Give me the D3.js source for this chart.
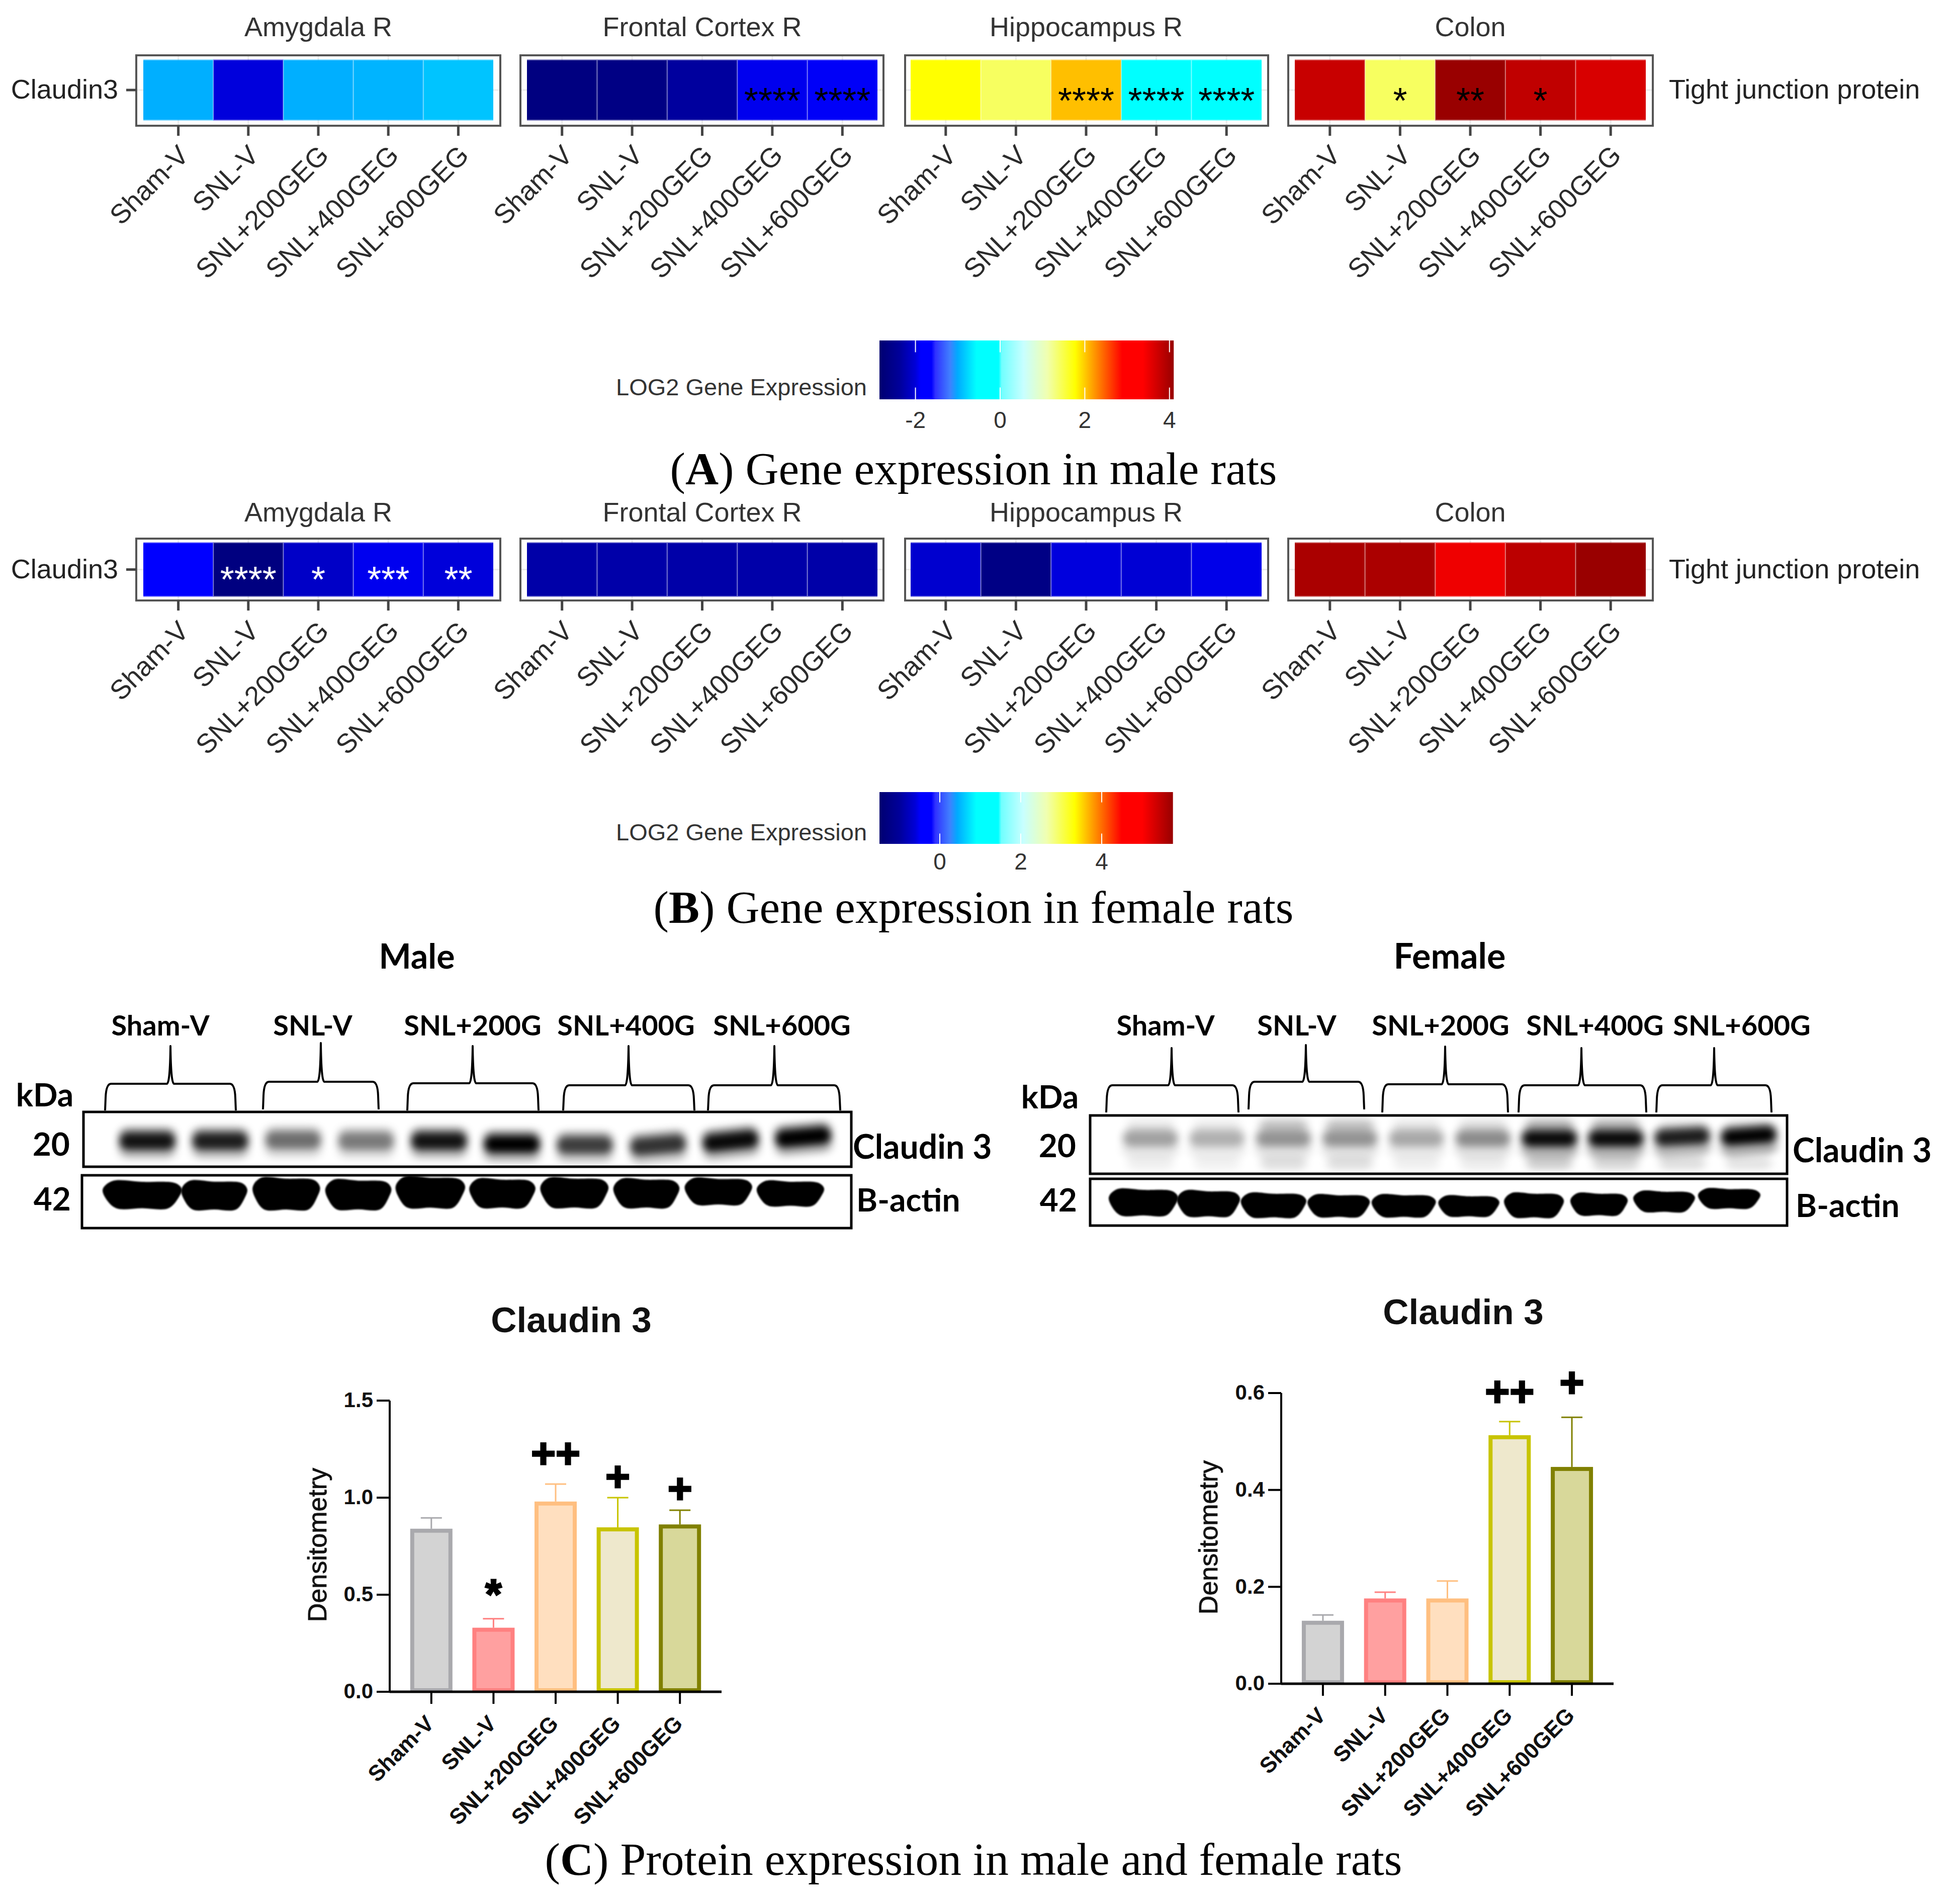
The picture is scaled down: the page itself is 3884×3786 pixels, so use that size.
<!DOCTYPE html>
<html>
<head>
<meta charset="utf-8">
<script src="https://d3js.org/d3.v7.min.js"></script>
<style>
    html, body { margin: 0; padding: 0; background: #fff; overflow: hidden; }
    text { font-family: "Liberation Sans", Arial, sans-serif; }
    svg { display: block; }
</style>
</head>
<body>
<div id="chart"></div>
<script>
// Data ------------------------------------
var tissues = ["Amygdala R", "Frontal Cortex R", "Hippocampus R", "Colon"];
var heatGroups = ["Sham-V", "SNL-V", "SNL+200GEG", "SNL+400GEG", "SNL+600GEG"];
var geneName = "Claudin3";
var geneClass = "Tight junction protein";
var legendTitle = "LOG2 Gene Expression";

// LOG2 values
var maleAmygdala = [-0.98, -1.99, -0.98, -0.955, -0.87];
var maleFrontal = [-2.67, -2.63, -2.35, -1.93, -1.9];
var maleHippocampus = [1.77, 1.41, 2.05, -0.2, -0.2];
var maleColon = [3.76, 1.41, 4.09, 3.82, 3.65];
var maleAmygdalaSig = ["", "", "", "", ""];
var maleFrontalSig = ["", "", "", "****", "****"];
var maleHippocampusSig = ["", "", "****", "****", "****"];
var maleColonSig = ["", "*", "**", "*", ""];

var femaleAmygdala = [-0.4, -1.3, -0.71, -0.53, -0.6];
var femaleFrontal = [-0.91, -0.9, -0.91, -0.9, -0.91];
var femaleHippocampus = [-0.66, -1.25, -0.59, -0.63, -0.55];
var femaleColon = [5.63, 5.62, 5.12, 5.5, 5.75];
var femaleAmygdalaSig = ["", "****", "*", "***", "**"];
var femaleFrontalSig = ["", "", "", "", ""];
var femaleHippocampusSig = ["", "", "", "", ""];
var femaleColonSig = ["", "", "", "", ""];

// colour bars
var maleRange = [-2.85, 4.1];
var femaleRange = [-1.49, 5.76];
var maleLegendTicks = [-2, 0, 2, 4];
var femaleLegendTicks = [0, 2, 4];
var paletteStops = [0, .07, .122, .14, .177, .19, .24, .265, .33, .405, .415, .49, .57, .665, .825, .895, 1];
var paletteColors = ["#000070", "#00009c", "#0000d8", "#0000ff", "#0000ff", "#3030ff", "#4080ff", "#00aaff", "#00ffff",
    "#00ffff", "#70ffff", "#c8ffff", "#f0ffb0", "#ffff00", "#ff0000", "#ff0000", "#980000"];

// western blots
var blotGroups = ["Sham-V", "SNL-V", "SNL+200G", "SNL+400G", "SNL+600G"];
var maleClaudinDensity = [.9, .85, .5, .45, .9, 1, .7, .75, .95, 1];
var maleClaudinMigration = [0, 0, .2, 0, 0, -.6, -.8, -.8, 0, .8];
var maleClaudinTilt = [0, 0, 0, 0, 0, 0, 0, -5, -6, -5];
var maleActinAmount = [.9, .95, 1.05, .98, 1.02, .95, .98, .95, .87, .82];
var maleActinSpread = [1.14, .95, .97, .95, 1, .95, .98, .95, .97, .97];
var maleActinMigration = [-.25, -.35, -.04, -.23, .23, .04, .15, .04, .4, 0];
var femaleClaudinDensity = [.3, .25, .35, .35, .28, .38, .95, .95, .85, 1];
var femaleClaudinMigration = [0, 0, 0, 0, 0, 0, 0, 0, .3, .5];
var femaleClaudinTilt = [0, 0, 0, 0, 0, 0, 0, 0, -3, -4];
var femaleUpperDensity = [.07, .06, .2, .2, .08, .1, .25, .25, .07, .07];
var femaleLowerDensity = [.06, .05, .12, .12, .06, .07, .18, .15, .12, .1];
var femaleActinAmount = [.87, .85, .8, .73, .73, .68, .8, .73, .68, .65];
var femaleActinSpread = [1.1, 1, 1.04, .99, 1.02, .97, .95, .91, .98, .99];
var femaleActinMigration = [.14, -.1, -.44, -.55, -.55, -.6, -.44, -.24, .3, .9];
var actinOutline = [[-.5, -.2], [-.38, -.5], [0, -.47], [.42, -.42], [.5, -.2], [.46, .1], [.33, .5], [0, .5], [-.33, .5], [-.46, .15]];

// densitometry bars
var barGroups = ["Sham-V", "SNL-V", "SNL+200GEG", "SNL+400GEG", "SNL+600GEG"];
var maleBarValues = [.84, .33, .98, .847, .862];
var maleBarErrors = [.896, .376, 1.07, 1.0, .935];
var maleBarMarks = ["", "*", "++", "+", "+"];
var maleBarMarkLevels = [0, .536, 1.225, 1.107, 1.044];
var maleBarTicks = [0, .5, 1, 1.5];
var femaleBarValues = [.13, .176, .176, .513, .4475];
var femaleBarErrors = [.142, .189, .212, .541, .55];
var femaleBarMarks = ["", "", "", "++", "+"];
var femaleBarMarkLevels = [0, 0, 0, .602, .621];
var femaleBarTicks = [0, .2, .4, .6];
var barFills = ["#d3d3d3", "#ffa0a0", "#ffdfbf", "#eee8cc", "#d8d89a"];
var barStrokes = ["#a9a9ad", "#ff8080", "#ffbf80", "#c8c400", "#808000"];

// Page ------------------------------------
var svg = d3.select("#chart")
    .append("svg")
    .attr("width", 3884)
    .attr("height", 3786)
    .attr("viewBox", "0 0 3884 3786");

svg.append("rect").attr("width", 3884).attr("height", 3786).attr("fill", "#fff");

var defs = svg.append("defs");
defs.append("filter").attr("id", "bandBlur").attr("x", "-50%").attr("y", "-100%").attr("width", "200%").attr("height", "300%")
    .append("feGaussianBlur").attr("stdDeviation", "8 8");
defs.append("filter").attr("id", "softBlur").attr("x", "-50%").attr("y", "-100%").attr("width", "200%").attr("height", "300%")
    .append("feGaussianBlur").attr("stdDeviation", "9 7");
defs.append("filter").attr("id", "edgeBlur").attr("x", "-20%").attr("y", "-20%").attr("width", "140%").attr("height", "140%")
    .append("feGaussianBlur").attr("stdDeviation", "1.5");

var panelBoxes = [[271, 995], [1035, 1757], [1800, 2522], [2562, 3287]];
var panelCells = [[285, 981], [1048, 1745], [1811, 2509], [2575, 3273]];

drawHeatRow({
    range: maleRange,
    values: [maleAmygdala, maleFrontal, maleHippocampus, maleColon],
    marks: [maleAmygdalaSig, maleFrontalSig, maleHippocampusSig, maleColonSig],
    markColor: "#000", titleY: 72, boxTop: 110, boxBottom: 250, cellTop: 120, cellBottom: 238,
    labelDy: 62, markDy: 46
});
drawHeatRow({
    range: femaleRange,
    values: [femaleAmygdala, femaleFrontal, femaleHippocampus, femaleColon],
    marks: [femaleAmygdalaSig, femaleFrontalSig, femaleHippocampusSig, femaleColonSig],
    markColor: "#fff", titleY: 1037, boxTop: 1071, boxBottom: 1194, cellTop: 1080, cellBottom: 1185,
    labelDy: 64, markDy: 44
});

drawLegend("legendMale", maleRange, maleLegendTicks, 1820.6, 84.2, 677, 794, 786, 851);
drawLegend("legendFemale", femaleRange, femaleLegendTicks, 1869, 80.5, 1575, 1678, 1671, 1729);

drawCaption("A", ") Gene expression in male rats", 963);
drawCaption("B", ") Gene expression in female rats", 1835);
drawCaption("C", ") Protein expression in male and female rats", 3728);

drawMaleBlot();
drawFemaleBlot();

drawBars({
    values: maleBarValues, errors: maleBarErrors, marks: maleBarMarks, levels: maleBarMarkLevels,
    ticks: maleBarTicks, yMax: 1.5, axisX: 775, axisRight: 1435, y0: 3364, yTop: 2785,
    titleX: 1136, titleY: 2649, ylabelX: 649, ylabelY: 3072
});
drawBars({
    values: femaleBarValues, errors: femaleBarErrors, marks: femaleBarMarks, levels: femaleBarMarkLevels,
    ticks: femaleBarTicks, yMax: .6, axisX: 2548, axisRight: 3209, y0: 3348, yTop: 2770,
    titleX: 2910, titleY: 2633, ylabelX: 2421, ylabelY: 3057
});

// Heat maps -------------------------------
function paletteScale(range) {
    return d3.scaleLinear()
        .domain(paletteStops.map(function (f) { return range[0] + f * (range[1] - range[0]); }))
        .range(paletteColors)
        .clamp(true);
}

function drawHeatRow(o) {
    var color = paletteScale(o.range);

    tissues.forEach(function (tissue, p) {
        var box = panelBoxes[p], cells = panelCells[p];
        var g = svg.append("g");

        var x = d3.scaleBand().domain(heatGroups).range(cells);
        var y = d3.scaleBand().domain([geneName]).range([o.cellTop, o.cellBottom]);

        g.append("text")
            .attr("x", (cells[0] + cells[1]) / 2)
            .attr("y", o.titleY)
            .attr("text-anchor", "middle")
            .attr("fill", "#333")
            .style("font-size", "54px")
            .text(tissue);

        // pale grid behind the cells
        g.selectAll(".grid")
            .data(heatGroups)
            .enter().append("line")
            .attr("x1", function (d) { return x(d) + x.bandwidth() / 2; })
            .attr("x2", function (d) { return x(d) + x.bandwidth() / 2; })
            .attr("y1", o.boxTop)
            .attr("y2", o.boxBottom)
            .attr("stroke", "#ebebeb")
            .attr("stroke-width", 3);
        g.append("line")
            .attr("x1", box[0])
            .attr("x2", box[1])
            .attr("y1", y(geneName) + y.bandwidth() / 2)
            .attr("y2", y(geneName) + y.bandwidth() / 2)
            .attr("stroke", "#ebebeb")
            .attr("stroke-width", 3);

        // soft fringe at the top and bottom of each cell
        g.selectAll(".edge")
            .data(o.values[p])
            .enter().append("rect")
            .attr("x", function (d, i) { return x(heatGroups[i]); })
            .attr("y", o.cellTop - 2)
            .attr("width", x.bandwidth())
            .attr("height", o.cellBottom - o.cellTop + 4)
            .attr("fill", function (d) { return color(d); })
            .attr("opacity", .5);

        g.selectAll(".cell")
            .data(o.values[p])
            .enter().append("rect")
            .attr("x", function (d, i) { return x(heatGroups[i]); })
            .attr("y", y(geneName))
            .attr("width", x.bandwidth())
            .attr("height", y.bandwidth())
            .attr("fill", function (d) { return color(d); });

        // thin light joins between the cells
        g.selectAll(".join")
            .data(heatGroups.slice(1))
            .enter().append("line")
            .attr("x1", function (d) { return x(d); })
            .attr("x2", function (d) { return x(d); })
            .attr("y1", y(geneName))
            .attr("y2", y(geneName) + y.bandwidth())
            .attr("stroke", "#fff")
            .attr("stroke-opacity", .45)
            .attr("stroke-width", 2);

        g.selectAll(".mark")
            .data(o.marks[p])
            .enter().append("text")
            .attr("x", function (d, i) { return x(heatGroups[i]) + x.bandwidth() / 2; })
            .attr("y", y(geneName) + y.bandwidth() / 2 + o.markDy)
            .attr("text-anchor", "middle")
            .attr("fill", o.markColor)
            .style("font-size", "72px")
            .text(function (d) { return d; });

        g.append("rect")
            .attr("x", box[0])
            .attr("y", o.boxTop)
            .attr("width", box[1] - box[0])
            .attr("height", o.boxBottom - o.boxTop)
            .attr("fill", "none")
            .attr("stroke", "#555")
            .attr("stroke-width", 4);

        var xAxis = g.append("g")
            .attr("transform", "translate(0," + o.boxBottom + ")")
            .call(d3.axisBottom(x).tickSize(20).tickSizeOuter(0).offset(0));
        xAxis.select(".domain").remove();
        xAxis.selectAll("line").attr("stroke", "#444").attr("stroke-width", 5);
        xAxis.selectAll("text")
            .attr("x", 0)
            .attr("y", 0)
            .attr("dy", 0)
            .attr("transform", "translate(24," + o.labelDy + ")rotate(-45)")
            .attr("fill", "#2b2b2b")
            .style("text-anchor", "end")
            .style("font-family", "Liberation Sans")
            .style("font-size", "54px");

        if (p == 0) {
            var yAxis = g.append("g")
                .attr("transform", "translate(" + box[0] + ",0)")
                .call(d3.axisLeft(y).tickSize(20).tickSizeOuter(0).tickPadding(16).offset(0));
            yAxis.select(".domain").remove();
            yAxis.selectAll("line").attr("stroke", "#444").attr("stroke-width", 5);
            yAxis.selectAll("text")
                .attr("fill", "#222")
                .style("font-family", "Liberation Sans")
                .style("font-size", "54px");
        }
        if (p == tissues.length - 1) {
            g.append("text")
                .attr("x", 3319)
                .attr("y", (o.cellTop + o.cellBottom) / 2)
                .attr("dy", ".32em")
                .attr("fill", "#222")
                .style("font-size", "54px")
                .text(geneClass);
        }
    });
}

function drawLegend(id, range, ticks, firstTickX, perUnit, top, bottom, titleY, tickY) {
    var x = d3.scaleLinear()
        .domain(range)
        .range([firstTickX + (range[0] - ticks[0]) * perUnit, firstTickX + (range[1] - ticks[0]) * perUnit]);

    var grad = defs.append("linearGradient").attr("id", id);
    paletteStops.forEach(function (f, i) {
        grad.append("stop").attr("offset", f).attr("stop-color", paletteColors[i]);
    });

    var g = svg.append("g");
    g.append("rect")
        .attr("x", x(range[0]))
        .attr("y", top)
        .attr("width", x(range[1]) - x(range[0]))
        .attr("height", bottom - top)
        .attr("fill", "url(#" + id + ")");

    var h = (bottom - top) * .2;
    ticks.forEach(function (t) {
        [[top, top + h], [bottom - h, bottom]].forEach(function (s) {
            g.append("line")
                .attr("x1", x(t)).attr("x2", x(t))
                .attr("y1", s[0]).attr("y2", s[1])
                .attr("stroke", "#fff")
                .attr("stroke-width", 2);
        });
    });

    g.selectAll(".lab")
        .data(ticks)
        .enter().append("text")
        .attr("x", function (d) { return x(d); })
        .attr("y", tickY)
        .attr("text-anchor", "middle")
        .attr("fill", "#333")
        .style("font-size", "46px")
        .text(function (d) { return d; });

    g.append("text")
        .attr("x", x(range[0]) - 25)
        .attr("y", titleY)
        .attr("text-anchor", "end")
        .attr("fill", "#333")
        .style("font-size", "47px")
        .text(legendTitle);
}

function drawCaption(letter, rest, y) {
    var t = svg.append("text")
        .attr("x", 1936)
        .attr("y", y)
        .attr("text-anchor", "middle")
        .attr("fill", "#000")
        .style("font-family", "Liberation Serif")
        .style("font-size", "91.5px");
    t.append("tspan").text("(");
    t.append("tspan").style("font-weight", "bold").style("font-family", "Liberation Serif").text(letter);
    t.append("tspan").text(rest);
}

// Blots -----------------------------------
function blotText(txt, x, y, size, anchor) {
    svg.append("text")
        .attr("x", x)
        .attr("y", y)
        .attr("text-anchor", anchor || "middle")
        .attr("fill", "#000")
        .style("font-family", "Lato")
        .style("font-weight", "bold")
        .style("font-size", size + "px")
        .text(txt);
}

function drawBracket(b) {
    // b = left, right, spike x, shoulder y, tip y, bottom y
    var p = d3.path();
    p.moveTo(b[0], b[5]);
    p.lineTo(b[0] + 1, b[3] + 28);
    p.quadraticCurveTo(b[0] + 2, b[3], b[0] + 12, b[3]);
    p.lineTo(b[2] - 7, b[3]);
    p.quadraticCurveTo(b[2] - 1, b[3], b[2], b[4]);
    p.quadraticCurveTo(b[2] + 1, b[3], b[2] + 7, b[3]);
    p.lineTo(b[1] - 12, b[3]);
    p.quadraticCurveTo(b[1] - 2, b[3], b[1] - 1, b[3] + 28);
    p.lineTo(b[1], b[5]);
    svg.append("path")
        .attr("d", p.toString())
        .attr("fill", "none")
        .attr("stroke", "#000")
        .attr("stroke-width", 4)
        .attr("stroke-linejoin", "round");
}

function blotFrame(left, right, top, bottom) {
    svg.append("rect")
        .attr("x", left)
        .attr("y", top)
        .attr("width", right - left)
        .attr("height", bottom - top)
        .attr("fill", "none")
        .attr("stroke", "#000")
        .attr("stroke-width", 5);
}

function softBands(lane, densities, migrations, tilts, yCentre, w, h, filter) {
    var yLane = d3.scaleLinear().domain([-1, 1]).range([yCentre + 10, yCentre - 10]);
    svg.append("g").selectAll("rect")
        .data(densities)
        .enter().append("rect")
        .attr("x", function (d, i) { return lane(i) - w / 2; })
        .attr("y", function (d, i) { return yLane(migrations ? migrations[i] : 0) - h / 2; })
        .attr("width", w)
        .attr("height", h)
        .attr("rx", 16)
        .attr("fill", "#000")
        .attr("opacity", function (d) { return d; })
        .attr("filter", "url(#" + filter + ")")
        .attr("transform", function (d, i) {
            var a = tilts ? tilts[i] : 0;
            return "rotate(" + a + " " + lane(i) + " " + yCentre + ")";
        });
}

function actinBands(lane, amounts, spreads, migrations, yCentre, w) {
    var yLane = d3.scaleLinear().domain([-1, 1]).range([yCentre + 10, yCentre - 10]);
    var hBand = d3.scaleLinear().domain([0, 1]).range([0, 60]);
    var wBand = d3.scaleLinear().domain([0, 1]).range([0, w]);
    var outline = d3.line().curve(d3.curveCatmullRomClosed);
    svg.append("g").selectAll("path")
        .data(amounts)
        .enter().append("path")
        .attr("d", function (d, i) {
            return outline(actinOutline.map(function (q) {
                return [lane(i) + q[0] * wBand(spreads[i]), yLane(migrations[i]) + q[1] * hBand(d)];
            }));
        })
        .attr("fill", "#000")
        .attr("filter", "url(#edgeBlur)");
}

function drawMaleBlot() {
    blotText("Male", 829, 1926, 68);
    blotText(blotGroups[0], 319, 2059, 56);
    blotText(blotGroups[1], 622, 2059, 56);
    blotText(blotGroups[2], 940, 2059, 56);
    blotText(blotGroups[3], 1245, 2059, 56);
    blotText(blotGroups[4], 1555, 2059, 56);

    [[209, 469, 339, 2155, 2080, 2208], [523, 753, 638, 2151, 2074, 2206], [810, 1071, 940, 2154, 2080, 2208],
        [1120, 1381, 1250, 2158, 2080, 2208], [1408, 1671, 1540, 2158, 2080, 2208]].forEach(drawBracket);

    blotText("kDa", 89, 2200, 64);
    blotText("20", 139, 2298, 64, "end");
    blotText("42", 141, 2407, 64, "end");
    blotText("Claudin 3", 1696, 2304, 66, "start");
    blotText("B-actin", 1703, 2409, 64, "start");

    var lane = d3.scaleLinear().domain([0, 9]).range([293, 1598]);
    softBands(lane, maleClaudinDensity.map(function (d) { return d * .25; }), maleClaudinMigration, maleClaudinTilt, 2272, 112, 66, "softBlur");
    softBands(lane, maleClaudinDensity, maleClaudinMigration, maleClaudinTilt, 2269, 110, 36, "bandBlur");

    var actinLane = d3.scaleLinear().domain([0, 9]).range([283, 1572]);
    actinBands(actinLane, maleActinAmount, maleActinSpread, maleActinMigration, 2373, 138);

    blotFrame(166, 1693, 2211, 2320);
    blotFrame(163, 1693, 2337, 2442);
}

function drawFemaleBlot() {
    blotText("Female", 2883, 1926, 70);
    blotText(blotGroups[0], 2318, 2059, 56);
    blotText(blotGroups[1], 2579, 2059, 56);
    blotText(blotGroups[2], 2865, 2059, 56);
    blotText(blotGroups[3], 3172, 2059, 56);
    blotText(blotGroups[4], 3464, 2059, 56);

    [[2200, 2463, 2330, 2158, 2084, 2212], [2483, 2713, 2597, 2151, 2078, 2206], [2749, 2999, 2874, 2156, 2081, 2212],
        [3020, 3274, 3145, 2158, 2084, 2212], [3294, 3523, 3409, 2158, 2084, 2212]].forEach(drawBracket);

    blotText("kDa", 2088, 2204, 64);
    blotText("20", 2140, 2301, 64, "end");
    blotText("42", 2142, 2409, 64, "end");
    blotText("Claudin 3", 3565, 2311, 66, "start");
    blotText("B-actin", 3571, 2420, 64, "start");

    var lane = d3.scaleLinear().domain([0, 9]).range([2288, 3478]);
    softBands(lane, femaleUpperDensity, null, null, 2236, 96, 24, "softBlur");
    softBands(lane, femaleLowerDensity, null, null, 2313, 92, 26, "softBlur");
    softBands(lane, femaleClaudinDensity.map(function (d) { return d * .3; }), femaleClaudinMigration, femaleClaudinTilt, 2272, 112, 62, "softBlur");
    softBands(lane, femaleClaudinDensity, femaleClaudinMigration, femaleClaudinTilt, 2264, 108, 32, "bandBlur");

    var actinLane = d3.scaleLinear().domain([0, 9]).range([2274, 3439]);
    actinBands(actinLane, femaleActinAmount, femaleActinSpread, femaleActinMigration, 2392, 125);

    blotFrame(2168, 3554, 2218, 2334);
    blotFrame(2168, 3554, 2344, 2437);
}

// Bar charts ------------------------------
function drawBars(o) {
    var x = d3.scalePoint().domain(barGroups).range([o.axisX, o.axisRight]).padding(.67);
    var y = d3.scaleLinear().domain([0, o.yMax]).range([o.y0, o.yTop]);
    var g = svg.append("g");
    var barW = 76;

    g.append("text")
        .attr("x", o.titleX)
        .attr("y", o.titleY)
        .attr("text-anchor", "middle")
        .attr("fill", "#111")
        .style("font-weight", "bold")
        .style("font-size", "71px")
        .text("Claudin 3");

    // error bars sit behind the bars
    g.selectAll(".err")
        .data(o.errors)
        .enter().append("line")
        .attr("x1", function (d, i) { return x(barGroups[i]); })
        .attr("x2", function (d, i) { return x(barGroups[i]); })
        .attr("y1", function (d) { return y(d); })
        .attr("y2", function (d, i) { return y(o.values[i]); })
        .attr("stroke", function (d, i) { return barStrokes[i]; })
        .attr("stroke-width", 3);
    g.selectAll(".cap")
        .data(o.errors)
        .enter().append("line")
        .attr("x1", function (d, i) { return x(barGroups[i]) - 21; })
        .attr("x2", function (d, i) { return x(barGroups[i]) + 21; })
        .attr("y1", function (d) { return y(d); })
        .attr("y2", function (d) { return y(d); })
        .attr("stroke", function (d, i) { return barStrokes[i]; })
        .attr("stroke-width", 3);

    g.selectAll(".bar")
        .data(o.values)
        .enter().append("rect")
        .attr("x", function (d, i) { return x(barGroups[i]) - barW / 2; })
        .attr("y", function (d) { return y(d) + 4; })
        .attr("width", barW)
        .attr("height", function (d) { return o.y0 - y(d) - 7; })
        .attr("fill", function (d, i) { return barFills[i]; })
        .attr("stroke", function (d, i) { return barStrokes[i]; })
        .attr("stroke-width", 8);

    var yAxis = g.append("g")
        .attr("transform", "translate(" + o.axisX + ",0)")
        .call(d3.axisLeft(y).tickValues(o.ticks).tickFormat(d3.format(".1f")).tickSize(26).tickPadding(7).offset(0));
    yAxis.select(".domain").attr("stroke", "#000").attr("stroke-width", 4).attr("d", "M0," + o.y0 + "V" + o.yTop);
    yAxis.selectAll("line").attr("stroke", "#000").attr("stroke-width", 4);
    yAxis.selectAll("text")
        .attr("fill", "#111")
        .style("font-family", "Liberation Sans")
        .style("font-weight", "bold")
        .style("font-size", "42px");

    var xAxis = g.append("g")
        .attr("transform", "translate(0," + o.y0 + ")")
        .call(d3.axisBottom(x).tickSize(24).tickSizeOuter(0).offset(0));
    xAxis.select(".domain").attr("stroke", "#000").attr("stroke-width", 5);
    xAxis.selectAll("line").attr("stroke", "#000").attr("stroke-width", 4);
    xAxis.selectAll("text")
        .attr("x", 0)
        .attr("y", 0)
        .attr("dy", 0)
        .attr("transform", "translate(8,66)rotate(-45)")
        .attr("fill", "#111")
        .style("text-anchor", "end")
        .style("font-family", "Liberation Sans")
        .style("font-weight", "bold")
        .style("font-size", "44px");

    g.append("text")
        .attr("transform", "translate(" + o.ylabelX + "," + o.ylabelY + ")rotate(-90)")
        .attr("text-anchor", "middle")
        .attr("fill", "#111")
        .attr("stroke", "#111")
        .attr("stroke-width", .8)
        .style("font-size", "52px")
        .text("Densitometry");

    g.selectAll(".sig")
        .data(o.marks)
        .enter().append("text")
        .attr("x", function (d, i) { return x(barGroups[i]); })
        .attr("y", function (d, i) { return y(o.levels[i]) + (d == "*" ? 42 : 28); })
        .attr("text-anchor", "middle")
        .attr("fill", "#000")
        .attr("stroke", "#000")
        .attr("stroke-width", 3)
        .style("font-weight", "bold")
        .style("font-size", "84px")
        .text(function (d) { return d; });
}
</script>
</body>
</html>
